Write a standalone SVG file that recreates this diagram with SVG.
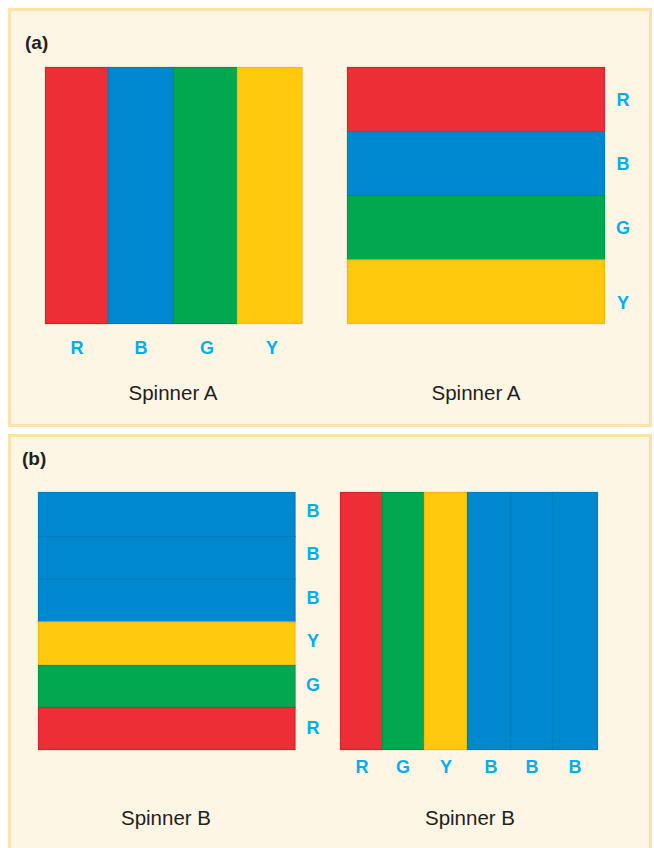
<svg xmlns="http://www.w3.org/2000/svg" width="654" height="848" viewBox="0 0 654 848">
<style>
.panel{fill:#FDF6E5;stroke:#FDE2A9;stroke-width:3}
.r{fill:#EE2E37;stroke:#D2262F;stroke-width:1.2}
.b{fill:#0088CF;stroke:#007CC0;stroke-width:1.2}
.g{fill:#00A84F;stroke:#009646;stroke-width:1.2}
.y{fill:#FFCA0B;stroke:#F8B617;stroke-width:1.2}
.lab{font-family:"Liberation Sans",Arial,sans-serif;font-weight:bold;font-size:18px;fill:#00AEEF;text-anchor:middle}
.cap{font-family:"Liberation Sans",Arial,sans-serif;font-size:20.5px;fill:#231F20;text-anchor:middle}
.pl{font-family:"Liberation Sans",Arial,sans-serif;font-weight:bold;font-size:19px;fill:#231F20}
</style>
<rect width="654" height="848" fill="#ffffff"/>
<g id="panel-a">
<rect class="panel" x="9.5" y="9.5" width="641" height="416"/>
<text class="pl" x="25" y="49">(a)</text>
</g>
<g id="panel-b">
<rect class="panel" x="9.5" y="435.5" width="641" height="420"/>
<text class="pl" x="22" y="465">(b)</text>
</g>
<g id="spinnerA-left">
<rect class="r" x="45.5" y="67.5" width="63" height="256"/>
<rect class="b" x="108.5" y="67.5" width="65" height="256"/>
<rect class="g" x="173.5" y="67.5" width="64" height="256"/>
<rect class="y" x="237.5" y="67.5" width="64.5" height="256"/>
<text class="lab" x="77" y="354">R</text>
<text class="lab" x="141" y="354">B</text>
<text class="lab" x="207" y="354">G</text>
<text class="lab" x="272" y="354">Y</text>
<text class="cap" x="173" y="400">Spinner A</text>
</g>
<g id="spinnerA-right">
<rect class="r" x="347.5" y="67.5" width="257" height="64"/>
<rect class="b" x="347.5" y="131.5" width="257" height="64"/>
<rect class="g" x="347.5" y="195.5" width="257" height="64.5"/>
<rect class="y" x="347.5" y="260" width="257" height="63.5"/>
<text class="lab" x="623" y="106">R</text>
<text class="lab" x="623" y="170">B</text>
<text class="lab" x="623" y="234">G</text>
<text class="lab" x="623" y="309">Y</text>
<text class="cap" x="476" y="400">Spinner A</text>
</g>
<g id="spinnerB-left">
<rect class="b" x="38.5" y="492.5" width="256.5" height="44"/>
<rect class="b" x="38.5" y="536.5" width="256.5" height="42.5"/>
<rect class="b" x="38.5" y="579" width="256.5" height="43"/>
<rect class="y" x="38.5" y="622" width="256.5" height="43.5"/>
<rect class="g" x="38.5" y="665.5" width="256.5" height="42"/>
<rect class="r" x="38.5" y="707.5" width="256.5" height="42"/>
<text class="lab" x="313" y="517">B</text>
<text class="lab" x="313" y="560">B</text>
<text class="lab" x="313" y="604">B</text>
<text class="lab" x="313" y="647">Y</text>
<text class="lab" x="313" y="691">G</text>
<text class="lab" x="313" y="734">R</text>
<text class="cap" x="166" y="825">Spinner B</text>
</g>
<g id="spinnerB-right">
<rect class="r" x="340.5" y="492.5" width="42" height="257"/>
<rect class="g" x="382.5" y="492.5" width="42" height="257"/>
<rect class="y" x="424.5" y="492.5" width="43" height="257"/>
<rect class="b" x="467.5" y="492.5" width="43" height="257"/>
<rect class="b" x="510.5" y="492.5" width="42" height="257"/>
<rect class="b" x="552.5" y="492.5" width="45" height="257"/>
<text class="lab" x="362" y="773">R</text>
<text class="lab" x="403" y="773">G</text>
<text class="lab" x="446" y="773">Y</text>
<text class="lab" x="491" y="773">B</text>
<text class="lab" x="532" y="773">B</text>
<text class="lab" x="575" y="773">B</text>
<text class="cap" x="470" y="825">Spinner B</text>
</g>
<g id="connectors"></g>
</svg>
